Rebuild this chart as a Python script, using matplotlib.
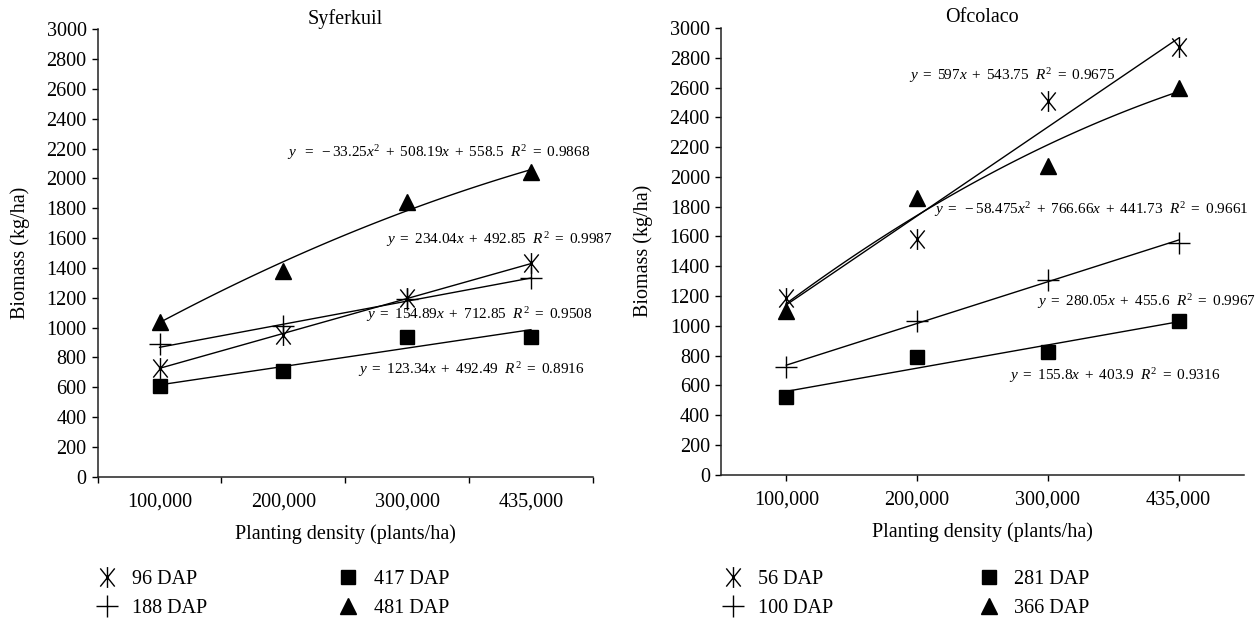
import matplotlib; matplotlib.use('Agg')
import matplotlib.pyplot as plt
import numpy as np
from matplotlib.path import Path

plt.rcParams.update({
    'font.family': ['Liberation Serif', 'DejaVu Serif'],
    'font.size': 14.5,
    'mathtext.fontset': 'custom',
    'mathtext.rm': 'Liberation Serif',
    'mathtext.it': 'Liberation Serif:italic',
    'axes.spines.top': False, 'axes.spines.right': False,
    'axes.edgecolor': '#222222', 'axes.linewidth': 1.1,
})

densities = ['100,000', '200,000', '300,000', '435,000']

# Syferkuil
syf_labels = ['96 DAP', '188 DAP', '417 DAP', '481 DAP']
syf_96 = [730, 950, 1200, 1430]
syf_188 = [890, 1010, 1190, 1330]
syf_417 = [610, 710, 940, 940]
syf_481 = [1040, 1380, 1840, 2040]
# trendline coefficients (highest power first), as printed on the chart
syf_fit = [[234.04, 492.85], [154.89, 712.85], [123.34, 492.49], [-33.25, 508.19, 558.5]]
syf_eq = [r'$y\ =\ 234.04x\ +\ 492.85\ \ R^2\ =\ 0.9987$',
          r'$y\ =\ 154.89x\ +\ 712.85\ \ R^2\ =\ 0.9508$',
          r'$y\ =\ 123.34x\ +\ 492.49\ \ R^2\ =\ 0.8916$',
          r'$y\ \ =\ -33.25x^2\ +\ 508.19x\ +\ 558.5\ \ R^2\ =\ 0.9868$']
syf_eq_pos = [(2.83, 1587), (2.67, 1085), (2.60, 716), (2.03, 2176)]

# Ofcolaco
ofc_labels = ['56 DAP', '100 DAP', '281 DAP', '366 DAP']
ofc_56 = [1190, 1580, 2510, 2870]
ofc_100 = [725, 1030, 1305, 1555]
ofc_281 = [525, 790, 825, 1030]
ofc_366 = [1100, 1860, 2070, 2600]
ofc_fit = [[597, 543.75], [280.05, 455.6], [155.8, 403.9], [-58.475, 766.66, 441.73]]
ofc_eq = [r'$y\ =\ 597x\ +\ 543.75\ \ R^2\ =\ 0.9675$',
          r'$y\ =\ 280.05x\ +\ 455.6\ \ R^2\ =\ 0.9967$',
          r'$y\ =\ 155.8x\ +\ 403.9\ \ R^2\ =\ 0.9316$',
          r'$y\ =\ -58.475x^2\ +\ 766.66x\ +\ 441.73\ \ R^2\ =\ 0.9661$']
ofc_eq_pos = [(1.94, 2683), (2.92, 1160), (2.70, 669), (2.13, 1778)]

# asterisk: X plus a vertical bar
star = Path([(-0.8, -1), (0.8, 1), (-0.8, 1), (0.8, -1), (0, -1.15), (0, 1.15)],
            [Path.MOVETO, Path.LINETO, Path.MOVETO, Path.LINETO, Path.MOVETO, Path.LINETO])
marker_styles = [dict(marker=star, ms=15, mfc='none', mew=1.0),
                 dict(marker='+', ms=16, mew=1.0),
                 dict(marker='s', ms=10.5),
                 dict(marker='^', ms=12)]

fig = plt.figure(figsize=(12.6, 6.2), dpi=100)
ax1 = fig.add_axes([0.0775, 0.2311, 0.393, 0.7216])
ax2 = fig.add_axes([0.5722, 0.2344, 0.415, 0.7204])

x = np.arange(1, 5)
xs = np.linspace(1, 4, 60)

panels = [
    (ax1, 'Syferkuil', [syf_96, syf_188, syf_417, syf_481], syf_labels, syf_fit, syf_eq, syf_eq_pos,
     0.077, 6.5),
    (ax2, 'Ofcolaco', [ofc_56, ofc_100, ofc_281, ofc_366], ofc_labels, ofc_fit, ofc_eq, ofc_eq_pos,
     0.574, 7.2),
]

for ax, title, series, labels, fits, eqs, eq_pos, leg_x, colspace in panels:
    handles = []
    for vals, lab, coef, ms in zip(series, labels, fits, marker_styles):
        ax.plot(xs, np.polyval(coef, xs), color='black', lw=1.0, zorder=2)
        h, = ax.plot(x, vals, ls='none', color='black', label=lab, zorder=3, **ms)
        handles.append(h)
    for eq, (ex, ey) in zip(eqs, eq_pos):
        ax.text(ex, ey, eq, fontsize=11, ha='left', va='center', clip_on=False)
    ax.set_xlim(0.5, 4.5)
    ax.set_ylim(0, 3000)
    ax.set_yticks(np.arange(0, 3001, 200))
    ax.set_ylabel('Biomass (kg/ha)', fontsize=14.5, labelpad=12)
    ax.set_xlabel('Planting density (plants/ha)', fontsize=14.5, labelpad=9)
    ax.set_title(title, fontsize=14.5, pad=4)
    ax.tick_params(axis='both', direction='out', length=4.5, width=1.0, labelsize=14.5)
    fig.legend(handles=handles, ncol=2, frameon=False, loc='center left',
               bbox_to_anchor=(leg_x, 1 - 594 / 620), borderpad=0, borderaxespad=0,
               handlelength=1.0, handletextpad=0.75, columnspacing=colspace,
               labelspacing=0.45, fontsize=14.5)

# left panel: ticks on category boundaries, labels at centres
ax1.set_xticks([0.5, 1.5, 2.5, 3.5, 4.5])
ax1.set_xticklabels([])
ax1.set_xticks(x, minor=True)
ax1.set_xticklabels(densities, minor=True)
ax1.tick_params(axis='x', which='minor', length=0, pad=11.5, labelsize=14.5)

# right panel: ticks on category centres
ax2.set_xticks(x)
ax2.set_xticklabels(densities)
ax2.tick_params(axis='x', pad=7)

fig.savefig('out.png', dpi=100)
